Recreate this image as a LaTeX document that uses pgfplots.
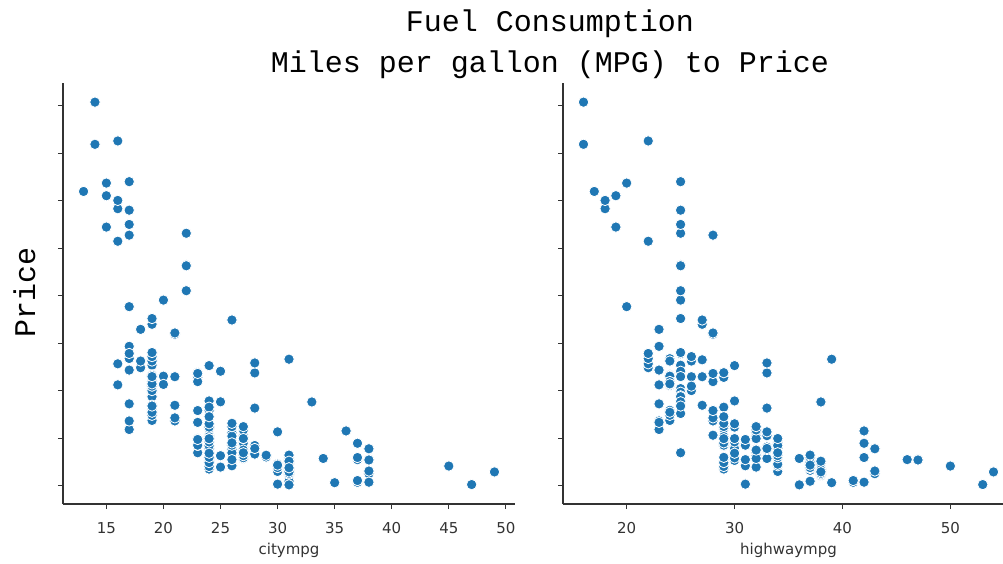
\documentclass[border=0pt]{standalone}
\usepackage{fontspec}
\setmainfont{DejaVu Sans}
\newfontfamily\monofont{Liberation Mono}
\usepackage{pgfplots}
\usepackage{pgfplotstable}
\pgfplotsset{compat=1.18}
\definecolor{mblue}{HTML}{1F77B4}
\definecolor{spine}{HTML}{333333}

\pgfplotstableread{
c h p
21 27 13495
21 27 16500
19 26 16500
24 30 13950
18 22 17450
19 25 15250
19 25 17710
19 25 18920
17 20 23875
16 22 17859
23 29 16430
23 29 16925
21 28 20970
21 28 21105
20 25 24565
16 22 30760
16 22 41315
15 20 36880
47 53 5151
38 43 6295
38 43 6575
37 41 5572
31 38 6377
24 30 7957
31 38 6229
31 38 6692
31 38 7609
24 30 8558
24 30 8921
19 24 12964
49 54 6479
31 38 6855
38 42 5399
30 34 6529
30 34 7129
30 34 7295
30 34 7295
27 33 7895
27 33 9095
27 33 8845
27 33 10295
24 28 12945
24 28 10345
24 29 6785
38 43 8916
38 43 8916
24 29 11048
15 19 32250
15 19 35550
13 17 36000
30 31 5195
31 38 6095
31 38 6795
31 38 6695
31 38 7395
17 23 10945
17 23 11845
17 23 13645
16 23 15645
26 32 8845
26 32 8495
26 32 10595
26 32 10245
36 42 10795
26 32 11245
19 27 18280
31 39 18344
22 25 25552
22 25 28248
22 25 28176
22 25 31600
16 18 34184
16 18 35056
14 16 40960
14 16 45400
19 24 16503
37 41 5389
31 38 6189
31 38 6669
24 30 7689
23 30 9959
23 25 8499
19 25 12629
19 25 14869
19 25 14489
25 32 6989
25 32 8189
23 30 9279
23 30 9279
31 37 5499
45 50 7099
31 37 6649
31 37 6849
31 37 7349
31 37 7299
31 37 7799
31 37 7499
31 37 7999
31 37 8249
27 34 8949
27 34 9549
19 25 13499
19 25 14399
19 25 13499
17 23 17199
17 23 19699
19 24 18399
19 24 11900
28 33 13200
19 24 12440
25 25 13860
19 24 15580
28 33 16900
19 24 16695
25 25 17075
19 24 16630
28 33 17950
18 24 18150
37 41 5572
24 30 7957
31 38 6229
31 38 6692
31 38 7609
24 30 8921
19 24 12764
19 27 22018
17 25 32528
17 25 34028
17 25 37028
17 28 31400
23 31 9295
23 31 9895
21 28 11850
21 28 12170
19 26 15040
19 26 15510
19 26 18150
19 26 18620
31 36 5118
24 29 7053
24 29 7603
26 31 7126
26 31 7775
24 29 9960
24 29 9233
24 29 11259
24 29 7463
24 29 10198
24 29 8013
23 23 11694
35 39 5348
31 38 6338
31 38 6488
31 37 6918
27 32 7898
27 32 8778
30 37 6938
30 37 7198
34 36 7898
38 47 7788
38 47 7738
28 34 8358
28 34 9258
29 34 8058
29 34 8238
26 29 9298
26 29 9538
24 30 8449
24 30 9639
24 30 9989
24 30 11199
24 30 11549
24 30 17669
28 33 8948
30 33 10698
27 32 9988
27 32 10898
27 32 11248
20 24 16558
19 24 15998
20 24 15690
19 24 15750
37 46 7775
27 34 7975
37 42 7995
27 34 8195
27 34 8495
37 42 9495
27 34 9995
26 29 11595
24 29 9980
24 29 13295
33 38 13845
24 29 12290
23 28 12940
19 25 13415
23 28 15985
19 25 16515
17 22 18420
17 22 18950
23 28 16845
19 25 19045
18 23 21485
26 27 22470
19 25 22625
}\cars

\pgfplotsset{
  myax/.style={
    scale only axis,
    anchor=south west,
    height=421pt,
    ymin=3104, ymax=47414,
    ytick={5000,10000,...,45000},
    yticklabels={},
    scaled y ticks=false,
    scaled x ticks=false,
    axis x line*=bottom,
    axis y line*=left,
    tick align=outside,
    major tick length=5pt,
    tick style={color=spine, line width=1pt},
    axis line style={color=spine, line width=1.2pt},
    /pgf/number format/assume math mode=true,
    ticklabel style={font=\fontsize{15}{18}\selectfont, text=spine},
    xticklabel style={anchor=base, yshift=-24.5pt},
    xlabel style={font=\fontsize{15}{18}\selectfont, text=spine, at={(axis description cs:0.5,0)}, anchor=base, yshift=-50pt},
    clip=false,
  },
  mydots/.style={only marks, mark=*, mark size=5.2pt,
    mark options={fill=mblue, draw=white, line width=0.8pt}},
}

\begin{document}
\begin{tikzpicture}[x=1pt,y=1pt]
\useasboundingbox (0pt,0pt) rectangle (1003pt,563pt);
\begin{axis}[myax, at={(63pt,59pt)}, width=452pt,
  xmin=11.2, xmax=50.8, xtick={15,20,...,50}, xlabel={citympg}]
\addplot[mydots] table[x=c,y=p]{\cars};
\end{axis}
\begin{axis}[myax, at={(563pt,59pt)}, width=451pt,
  xmin=14.1, xmax=55.9, xtick={20,30,40,50}, xlabel={highwaympg}]
\addplot[mydots] table[x=h,y=p]{\cars};
\end{axis}
\node[anchor=base, font=\monofont\fontsize{30}{36}\selectfont] at (550pt,531pt) {Fuel Consumption};
\node[anchor=base, font=\monofont\fontsize{30}{36}\selectfont] at (550pt,490pt) {Miles per gallon (MPG) to Price};
\node[anchor=base, rotate=90, font=\monofont\fontsize{30}{36}\selectfont] at (35pt,271pt) {Price};
\end{tikzpicture}
\end{document}
